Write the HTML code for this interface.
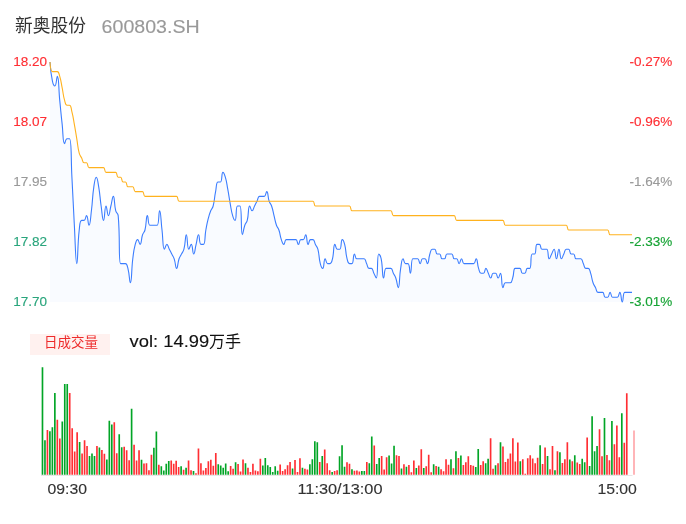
<!DOCTYPE html>
<html lang="zh-CN">
<head>
<meta charset="utf-8">
<title>新奥股份 600803.SH</title>
<style>
html,body{margin:0;padding:0;background:#fff;}
body{width:686px;height:524px;overflow:hidden;position:relative;font-family:"Liberation Sans",sans-serif;}
svg{position:absolute;left:0;top:0;display:block;will-change:transform;}
svg text{font-family:"Liberation Sans","Noto Sans CJK SC",sans-serif;}
</style>
</head>
<body>
<svg width="686" height="524" viewBox="0 0 686 524" role="img" aria-label="新奥股份 600803.SH 分时图">
<rect width="686" height="524" fill="#ffffff"/>
<!-- title -->
<text x="15" y="31.8" font-size="17.8" fill="#333333" text-anchor="start" textLength="71" lengthAdjust="spacingAndGlyphs">新奥股份</text>
<!-- price area + lines -->
<path d="M50 62C50 62 50.53 71.81 52.44 81.2C52.97 83.81 54.01 86 54.87 86C56.45 86 56.6 76.4 57.31 76.4C59.03 76.4 58.52 88.4 59.74 100.4C60.96 112.4 60.82 112.42 62.18 124.4C63.26 134.02 62.71 143.6 64.61 143.6C65.14 143.6 65.37 138.8 67.05 138.8C67.8 138.8 69.34 138.8 69.48 138.8C71.77 138.8 70.83 157.99 71.92 177.2C73.27 201.19 73 201.21 74.35 225.2C75.43 244.41 75.49 263.6 76.79 263.6C77.92 263.6 77.34 246.69 79.22 230C79.78 225.09 79.7 220.4 81.66 220.4C82.14 220.4 83.33 220.4 84.09 220.4C85.77 220.4 85.67 215.6 86.53 215.6C88.1 215.6 87.98 225.2 88.96 225.2C90.41 225.2 90.48 218.04 91.4 210.8C92.91 198.84 92.11 198.71 93.83 186.8C94.54 181.91 95.05 177.2 96.27 177.2C97.49 177.2 97.88 181.93 98.7 186.8C100.31 196.33 99.75 196.43 101.14 206C102.19 213.23 102.36 220.4 103.57 220.4C104.79 220.4 104.56 206 106.01 206C106.99 206 107.23 215.6 108.44 215.6C109.66 215.6 109.66 210.8 110.88 206C112.1 201.2 112.33 196.4 113.31 196.4C114.76 196.4 113.97 203.79 115.75 210.8C116.4 213.39 117.94 212.94 118.18 215.6C120.37 239.34 118.3 263.6 120.62 263.6C120.74 263.6 121.84 263.6 123.05 263.6C124.27 263.6 124.73 263.6 125.49 263.6C127.17 263.6 127.27 265.81 127.92 268.4C129.7 275.41 129.44 282.8 130.36 282.8C131.88 282.8 131.28 270.76 132.79 258.8C133.71 251.56 133.45 251.41 135.23 244.4C135.89 241.81 136.45 239.6 137.67 239.6C138.88 239.6 139.24 244.4 140.1 244.4C141.68 244.4 140.96 239.46 142.54 234.8C143.39 232.26 144.31 232.59 144.97 230C146.75 222.99 145.95 215.6 147.41 215.6C148.39 215.6 147.89 225.2 149.84 225.2C150.32 225.2 151.06 225.2 152.28 225.2C153.49 225.2 153.49 225.2 154.71 225.2C155.93 225.2 156.8 225.2 157.15 225.2C159.23 225.2 158.53 210.8 159.58 210.8C160.97 210.8 160.8 220.4 162.02 230C163.23 239.6 162.55 249.2 164.45 249.2C164.98 249.2 165.67 244.4 166.89 244.4C168.1 244.4 168.1 246.8 169.32 249.2C170.54 251.6 170.54 251.6 171.76 254C172.97 256.4 173.34 256.26 174.19 258.8C175.77 263.46 175.41 268.4 176.63 268.4C177.85 268.4 177.49 263.46 179.06 258.8C179.92 256.26 180.28 256.4 181.5 254C182.72 251.6 183.28 251.79 183.93 249.2C185.71 242.19 185.15 234.8 186.37 234.8C187.59 234.8 187.02 249.2 188.8 249.2C189.46 249.2 190.38 244.4 191.24 244.4C192.82 244.4 192.46 254 193.67 254C194.89 254 194.89 249.2 196.11 244.4C197.33 239.6 197.33 234.8 198.54 234.8C199.76 234.8 199.02 244.4 200.98 244.4C201.46 244.4 203.07 244.4 203.41 244.4C205.5 244.4 204.5 237.18 205.85 230C206.94 224.22 206.84 224.18 208.28 218.48C209.27 214.58 209.26 214.54 210.72 210.8C211.69 208.3 212.5 208.59 213.15 206C214.93 198.99 214.14 198.75 215.59 191.6C216.57 186.75 216.07 182 218.03 182C218.51 182 219.98 182 220.46 182C222.41 182 221.32 172.4 222.9 172.4C223.75 172.4 224.59 174.64 225.33 177.2C227.02 183.04 226.66 183.18 227.77 189.2C229.09 196.38 228.88 196.42 230.2 203.6C231.31 209.62 230.94 209.76 232.64 215.6C233.38 218.16 234.42 220.4 235.07 220.4C236.85 220.4 235.42 206 237.51 206C237.85 206 239.75 206 239.94 206C242.19 206 240.56 234.8 242.38 234.8C243 234.8 243.23 229.86 244.81 225.2C245.67 222.66 246.59 222.99 247.25 220.4C249.03 213.39 247.9 206 249.68 206C250.34 206 250.9 210.8 252.12 210.8C253.33 210.8 253.33 208.4 254.55 206C255.77 203.6 255.77 203.6 256.99 201.2C258.21 198.8 257.75 196.4 259.42 196.4C260.18 196.4 260.64 196.4 261.86 196.4C263.08 196.4 263.53 196.4 264.29 196.4C265.97 196.4 265.87 191.6 266.73 191.6C268.31 191.6 267.59 196.54 269.16 201.2C270.02 203.74 270.74 203.46 271.6 206C273.18 210.66 272.82 210.8 274.03 215.6C275.25 220.4 274.89 220.54 276.47 225.2C277.33 227.74 278.05 227.46 278.9 230C280.48 234.66 279.76 234.94 281.34 239.6C282.2 242.14 282.56 244.4 283.77 244.4C284.99 244.4 284.53 239.6 286.21 239.6C286.97 239.6 287.43 239.6 288.64 239.6C289.86 239.6 289.86 239.6 291.08 239.6C292.3 239.6 292.3 239.6 293.51 239.6C294.73 239.6 295.19 239.6 295.95 239.6C297.63 239.6 297.17 244.4 298.38 244.4C299.6 244.4 299.14 239.6 300.82 239.6C301.58 239.6 302.5 239.6 303.26 239.6C304.93 239.6 304.83 234.8 305.69 234.8C307.27 234.8 306.55 244.4 308.13 244.4C308.98 244.4 308.88 239.6 310.56 239.6C311.32 239.6 312.24 239.6 313 239.6C314.67 239.6 314.21 242 315.43 244.4C316.65 246.8 317.21 246.61 317.87 249.2C319.65 256.21 318.52 256.59 320.3 263.6C320.96 266.19 321.88 268.4 322.74 268.4C324.31 268.4 323.59 258.8 325.17 258.8C326.03 258.8 325.93 263.6 327.61 263.6C328.37 263.6 329.28 263.6 330.04 263.6C331.72 263.6 331.82 261.39 332.48 258.8C334.26 251.79 333.13 244.4 334.91 244.4C335.57 244.4 335.67 249.2 337.35 249.2C338.11 249.2 339.3 249.2 339.78 249.2C341.74 249.2 340.64 239.6 342.22 239.6C343.07 239.6 344 241.81 344.65 244.4C346.43 251.41 345.31 251.79 347.09 258.8C347.74 261.39 347.85 263.6 349.52 263.6C350.28 263.6 351.48 263.6 351.96 263.6C353.91 263.6 352.82 254 354.39 254C355.25 254 355.15 258.8 356.83 258.8C357.59 258.8 358.05 258.8 359.26 258.8C360.48 258.8 360.48 258.8 361.7 258.8C362.92 258.8 363.38 258.8 364.13 258.8C365.81 258.8 365.35 261.2 366.57 263.6C367.79 266 367.33 268.4 369 268.4C369.76 268.4 370.68 268.4 371.44 268.4C373.12 268.4 372.66 270.8 373.87 273.2C375.09 275.6 375.87 278 376.31 278C378.3 278 376.75 254 378.74 254C379.19 254 380.65 256.19 381.18 258.8C383.09 268.19 382 278 383.62 278C384.44 278 384.1 268.4 386.05 268.4C386.53 268.4 387.27 268.4 388.49 268.4C389.7 268.4 390.16 268.4 390.92 268.4C392.6 268.4 392.14 270.8 393.36 273.2C394.57 275.6 394.93 275.46 395.79 278C397.37 282.66 397.4 287.6 398.23 287.6C399.84 287.6 399.05 277.93 400.66 268.4C401.49 263.53 401.52 258.8 403.1 258.8C403.95 258.8 403.85 263.6 405.53 263.6C406.29 263.6 407.49 263.6 407.97 263.6C409.92 263.6 409.42 273.2 410.4 273.2C411.85 273.2 410.75 258.8 412.84 258.8C413.18 258.8 414.05 258.8 415.27 258.8C416.49 258.8 416.95 258.8 417.71 258.8C419.38 258.8 418.92 263.6 420.14 263.6C421.36 263.6 420.9 258.8 422.58 258.8C423.34 258.8 424.25 258.8 425.01 258.8C426.69 258.8 426.59 263.6 427.45 263.6C429.03 263.6 428.31 258.66 429.88 254C430.74 251.46 430.64 249.2 432.32 249.2C433.08 249.2 433.99 249.2 434.75 249.2C436.43 249.2 435.51 254 437.19 254C437.95 254 438.86 254 439.62 254C441.3 254 440.38 258.8 442.06 258.8C442.82 258.8 443.74 258.8 444.49 258.8C446.17 258.8 445.25 254 446.93 254C447.69 254 448.15 254 449.36 254C450.58 254 451.04 254 451.8 254C453.48 254 452.56 258.8 454.23 258.8C454.99 258.8 455.91 258.8 456.67 258.8C458.35 258.8 457.89 263.6 459.1 263.6C460.32 263.6 460.32 258.8 461.54 258.8C462.76 258.8 462.3 263.6 463.97 263.6C464.73 263.6 465.19 263.6 466.41 263.6C467.63 263.6 467.63 263.6 468.85 263.6C470.06 263.6 470.06 263.6 471.28 263.6C472.5 263.6 472.96 263.6 473.72 263.6C475.39 263.6 475.29 258.8 476.15 258.8C477.73 258.8 477.01 263.74 478.59 268.4C479.44 270.94 479.34 273.2 481.02 273.2C481.78 273.2 482.7 273.2 483.46 273.2C485.13 273.2 484.67 268.4 485.89 268.4C487.11 268.4 487.11 270.8 488.33 273.2C489.54 275.6 489.54 278 490.76 278C491.98 278 491.52 273.2 493.2 273.2C493.96 273.2 494.87 273.2 495.63 273.2C497.31 273.2 496.85 278 498.07 278C499.28 278 499.85 273.2 500.5 273.2C502.28 273.2 501.16 287.6 502.94 287.6C503.59 287.6 503.7 282.8 505.37 282.8C506.13 282.8 506.59 282.8 507.81 282.8C509.03 282.8 509.48 282.8 510.24 282.8C511.92 282.8 511.82 280.54 512.68 278C514.26 273.34 513.16 268.4 515.11 268.4C515.59 268.4 516.33 268.4 517.55 268.4C518.77 268.4 519.22 268.4 519.98 268.4C521.66 268.4 520.74 273.2 522.42 273.2C523.18 273.2 524.1 273.2 524.85 273.2C526.53 273.2 525.61 268.4 527.29 268.4C528.05 268.4 529.38 268.4 529.72 268.4C531.81 268.4 530.07 254 532.16 254C532.51 254 534.11 254 534.59 254C536.55 254 535.07 244.4 537.03 244.4C537.51 244.4 538.71 244.4 539.46 244.4C541.14 244.4 540.22 249.2 541.9 249.2C542.66 249.2 543.12 249.2 544.33 249.2C545.55 249.2 546.29 249.2 546.77 249.2C548.72 249.2 547.63 258.8 549.21 258.8C550.06 258.8 550.42 256.4 551.64 254C552.86 251.6 553.22 249.2 554.08 249.2C555.65 249.2 555.29 258.8 556.51 258.8C557.73 258.8 557.73 249.2 558.95 249.2C560.16 249.2 559.8 258.8 561.38 258.8C562.24 258.8 562.6 256.4 563.82 254C565.03 251.6 564.57 249.2 566.25 249.2C567.01 249.2 567.93 249.2 568.69 249.2C570.36 249.2 569.44 254 571.12 254C571.88 254 572.8 254 573.56 254C575.23 254 574.32 258.8 575.99 258.8C576.75 258.8 577.21 258.8 578.43 258.8C579.64 258.8 580.1 258.8 580.86 258.8C582.54 258.8 582.08 261.2 583.3 263.6C584.51 266 584.06 268.4 585.73 268.4C586.49 268.4 587.41 268.4 588.17 268.4C589.84 268.4 589.75 270.66 590.6 273.2C592.18 277.86 591.46 278.14 593.04 282.8C593.9 285.34 594.26 285.2 595.47 287.6C596.69 290 596.23 292.4 597.91 292.4C598.67 292.4 599.13 292.4 600.34 292.4C601.56 292.4 602.02 292.4 602.78 292.4C604.45 292.4 603.54 297.2 605.21 297.2C605.97 297.2 606.89 297.2 607.65 297.2C609.33 297.2 608.87 292.4 610.08 292.4C611.3 292.4 610.84 297.2 612.52 297.2C613.28 297.2 613.74 297.2 614.95 297.2C616.17 297.2 616.63 297.2 617.39 297.2C619.07 297.2 618.97 292.4 619.82 292.4C621.4 292.4 621.04 302 622.26 302C623.48 302 622.74 292.4 624.69 292.4C625.18 292.4 625.91 292.4 627.13 292.4C628.35 292.4 628.35 292.4 629.56 292.4C630.78 292.4 632 292.4 632 292.4L632 302L50 302Z" fill="#f9fbff"/>
<path d="M50 62C50 62 50.53 71.81 52.44 81.2C52.97 83.81 54.01 86 54.87 86C56.45 86 56.6 76.4 57.31 76.4C59.03 76.4 58.52 88.4 59.74 100.4C60.96 112.4 60.82 112.42 62.18 124.4C63.26 134.02 62.71 143.6 64.61 143.6C65.14 143.6 65.37 138.8 67.05 138.8C67.8 138.8 69.34 138.8 69.48 138.8C71.77 138.8 70.83 157.99 71.92 177.2C73.27 201.19 73 201.21 74.35 225.2C75.43 244.41 75.49 263.6 76.79 263.6C77.92 263.6 77.34 246.69 79.22 230C79.78 225.09 79.7 220.4 81.66 220.4C82.14 220.4 83.33 220.4 84.09 220.4C85.77 220.4 85.67 215.6 86.53 215.6C88.1 215.6 87.98 225.2 88.96 225.2C90.41 225.2 90.48 218.04 91.4 210.8C92.91 198.84 92.11 198.71 93.83 186.8C94.54 181.91 95.05 177.2 96.27 177.2C97.49 177.2 97.88 181.93 98.7 186.8C100.31 196.33 99.75 196.43 101.14 206C102.19 213.23 102.36 220.4 103.57 220.4C104.79 220.4 104.56 206 106.01 206C106.99 206 107.23 215.6 108.44 215.6C109.66 215.6 109.66 210.8 110.88 206C112.1 201.2 112.33 196.4 113.31 196.4C114.76 196.4 113.97 203.79 115.75 210.8C116.4 213.39 117.94 212.94 118.18 215.6C120.37 239.34 118.3 263.6 120.62 263.6C120.74 263.6 121.84 263.6 123.05 263.6C124.27 263.6 124.73 263.6 125.49 263.6C127.17 263.6 127.27 265.81 127.92 268.4C129.7 275.41 129.44 282.8 130.36 282.8C131.88 282.8 131.28 270.76 132.79 258.8C133.71 251.56 133.45 251.41 135.23 244.4C135.89 241.81 136.45 239.6 137.67 239.6C138.88 239.6 139.24 244.4 140.1 244.4C141.68 244.4 140.96 239.46 142.54 234.8C143.39 232.26 144.31 232.59 144.97 230C146.75 222.99 145.95 215.6 147.41 215.6C148.39 215.6 147.89 225.2 149.84 225.2C150.32 225.2 151.06 225.2 152.28 225.2C153.49 225.2 153.49 225.2 154.71 225.2C155.93 225.2 156.8 225.2 157.15 225.2C159.23 225.2 158.53 210.8 159.58 210.8C160.97 210.8 160.8 220.4 162.02 230C163.23 239.6 162.55 249.2 164.45 249.2C164.98 249.2 165.67 244.4 166.89 244.4C168.1 244.4 168.1 246.8 169.32 249.2C170.54 251.6 170.54 251.6 171.76 254C172.97 256.4 173.34 256.26 174.19 258.8C175.77 263.46 175.41 268.4 176.63 268.4C177.85 268.4 177.49 263.46 179.06 258.8C179.92 256.26 180.28 256.4 181.5 254C182.72 251.6 183.28 251.79 183.93 249.2C185.71 242.19 185.15 234.8 186.37 234.8C187.59 234.8 187.02 249.2 188.8 249.2C189.46 249.2 190.38 244.4 191.24 244.4C192.82 244.4 192.46 254 193.67 254C194.89 254 194.89 249.2 196.11 244.4C197.33 239.6 197.33 234.8 198.54 234.8C199.76 234.8 199.02 244.4 200.98 244.4C201.46 244.4 203.07 244.4 203.41 244.4C205.5 244.4 204.5 237.18 205.85 230C206.94 224.22 206.84 224.18 208.28 218.48C209.27 214.58 209.26 214.54 210.72 210.8C211.69 208.3 212.5 208.59 213.15 206C214.93 198.99 214.14 198.75 215.59 191.6C216.57 186.75 216.07 182 218.03 182C218.51 182 219.98 182 220.46 182C222.41 182 221.32 172.4 222.9 172.4C223.75 172.4 224.59 174.64 225.33 177.2C227.02 183.04 226.66 183.18 227.77 189.2C229.09 196.38 228.88 196.42 230.2 203.6C231.31 209.62 230.94 209.76 232.64 215.6C233.38 218.16 234.42 220.4 235.07 220.4C236.85 220.4 235.42 206 237.51 206C237.85 206 239.75 206 239.94 206C242.19 206 240.56 234.8 242.38 234.8C243 234.8 243.23 229.86 244.81 225.2C245.67 222.66 246.59 222.99 247.25 220.4C249.03 213.39 247.9 206 249.68 206C250.34 206 250.9 210.8 252.12 210.8C253.33 210.8 253.33 208.4 254.55 206C255.77 203.6 255.77 203.6 256.99 201.2C258.21 198.8 257.75 196.4 259.42 196.4C260.18 196.4 260.64 196.4 261.86 196.4C263.08 196.4 263.53 196.4 264.29 196.4C265.97 196.4 265.87 191.6 266.73 191.6C268.31 191.6 267.59 196.54 269.16 201.2C270.02 203.74 270.74 203.46 271.6 206C273.18 210.66 272.82 210.8 274.03 215.6C275.25 220.4 274.89 220.54 276.47 225.2C277.33 227.74 278.05 227.46 278.9 230C280.48 234.66 279.76 234.94 281.34 239.6C282.2 242.14 282.56 244.4 283.77 244.4C284.99 244.4 284.53 239.6 286.21 239.6C286.97 239.6 287.43 239.6 288.64 239.6C289.86 239.6 289.86 239.6 291.08 239.6C292.3 239.6 292.3 239.6 293.51 239.6C294.73 239.6 295.19 239.6 295.95 239.6C297.63 239.6 297.17 244.4 298.38 244.4C299.6 244.4 299.14 239.6 300.82 239.6C301.58 239.6 302.5 239.6 303.26 239.6C304.93 239.6 304.83 234.8 305.69 234.8C307.27 234.8 306.55 244.4 308.13 244.4C308.98 244.4 308.88 239.6 310.56 239.6C311.32 239.6 312.24 239.6 313 239.6C314.67 239.6 314.21 242 315.43 244.4C316.65 246.8 317.21 246.61 317.87 249.2C319.65 256.21 318.52 256.59 320.3 263.6C320.96 266.19 321.88 268.4 322.74 268.4C324.31 268.4 323.59 258.8 325.17 258.8C326.03 258.8 325.93 263.6 327.61 263.6C328.37 263.6 329.28 263.6 330.04 263.6C331.72 263.6 331.82 261.39 332.48 258.8C334.26 251.79 333.13 244.4 334.91 244.4C335.57 244.4 335.67 249.2 337.35 249.2C338.11 249.2 339.3 249.2 339.78 249.2C341.74 249.2 340.64 239.6 342.22 239.6C343.07 239.6 344 241.81 344.65 244.4C346.43 251.41 345.31 251.79 347.09 258.8C347.74 261.39 347.85 263.6 349.52 263.6C350.28 263.6 351.48 263.6 351.96 263.6C353.91 263.6 352.82 254 354.39 254C355.25 254 355.15 258.8 356.83 258.8C357.59 258.8 358.05 258.8 359.26 258.8C360.48 258.8 360.48 258.8 361.7 258.8C362.92 258.8 363.38 258.8 364.13 258.8C365.81 258.8 365.35 261.2 366.57 263.6C367.79 266 367.33 268.4 369 268.4C369.76 268.4 370.68 268.4 371.44 268.4C373.12 268.4 372.66 270.8 373.87 273.2C375.09 275.6 375.87 278 376.31 278C378.3 278 376.75 254 378.74 254C379.19 254 380.65 256.19 381.18 258.8C383.09 268.19 382 278 383.62 278C384.44 278 384.1 268.4 386.05 268.4C386.53 268.4 387.27 268.4 388.49 268.4C389.7 268.4 390.16 268.4 390.92 268.4C392.6 268.4 392.14 270.8 393.36 273.2C394.57 275.6 394.93 275.46 395.79 278C397.37 282.66 397.4 287.6 398.23 287.6C399.84 287.6 399.05 277.93 400.66 268.4C401.49 263.53 401.52 258.8 403.1 258.8C403.95 258.8 403.85 263.6 405.53 263.6C406.29 263.6 407.49 263.6 407.97 263.6C409.92 263.6 409.42 273.2 410.4 273.2C411.85 273.2 410.75 258.8 412.84 258.8C413.18 258.8 414.05 258.8 415.27 258.8C416.49 258.8 416.95 258.8 417.71 258.8C419.38 258.8 418.92 263.6 420.14 263.6C421.36 263.6 420.9 258.8 422.58 258.8C423.34 258.8 424.25 258.8 425.01 258.8C426.69 258.8 426.59 263.6 427.45 263.6C429.03 263.6 428.31 258.66 429.88 254C430.74 251.46 430.64 249.2 432.32 249.2C433.08 249.2 433.99 249.2 434.75 249.2C436.43 249.2 435.51 254 437.19 254C437.95 254 438.86 254 439.62 254C441.3 254 440.38 258.8 442.06 258.8C442.82 258.8 443.74 258.8 444.49 258.8C446.17 258.8 445.25 254 446.93 254C447.69 254 448.15 254 449.36 254C450.58 254 451.04 254 451.8 254C453.48 254 452.56 258.8 454.23 258.8C454.99 258.8 455.91 258.8 456.67 258.8C458.35 258.8 457.89 263.6 459.1 263.6C460.32 263.6 460.32 258.8 461.54 258.8C462.76 258.8 462.3 263.6 463.97 263.6C464.73 263.6 465.19 263.6 466.41 263.6C467.63 263.6 467.63 263.6 468.85 263.6C470.06 263.6 470.06 263.6 471.28 263.6C472.5 263.6 472.96 263.6 473.72 263.6C475.39 263.6 475.29 258.8 476.15 258.8C477.73 258.8 477.01 263.74 478.59 268.4C479.44 270.94 479.34 273.2 481.02 273.2C481.78 273.2 482.7 273.2 483.46 273.2C485.13 273.2 484.67 268.4 485.89 268.4C487.11 268.4 487.11 270.8 488.33 273.2C489.54 275.6 489.54 278 490.76 278C491.98 278 491.52 273.2 493.2 273.2C493.96 273.2 494.87 273.2 495.63 273.2C497.31 273.2 496.85 278 498.07 278C499.28 278 499.85 273.2 500.5 273.2C502.28 273.2 501.16 287.6 502.94 287.6C503.59 287.6 503.7 282.8 505.37 282.8C506.13 282.8 506.59 282.8 507.81 282.8C509.03 282.8 509.48 282.8 510.24 282.8C511.92 282.8 511.82 280.54 512.68 278C514.26 273.34 513.16 268.4 515.11 268.4C515.59 268.4 516.33 268.4 517.55 268.4C518.77 268.4 519.22 268.4 519.98 268.4C521.66 268.4 520.74 273.2 522.42 273.2C523.18 273.2 524.1 273.2 524.85 273.2C526.53 273.2 525.61 268.4 527.29 268.4C528.05 268.4 529.38 268.4 529.72 268.4C531.81 268.4 530.07 254 532.16 254C532.51 254 534.11 254 534.59 254C536.55 254 535.07 244.4 537.03 244.4C537.51 244.4 538.71 244.4 539.46 244.4C541.14 244.4 540.22 249.2 541.9 249.2C542.66 249.2 543.12 249.2 544.33 249.2C545.55 249.2 546.29 249.2 546.77 249.2C548.72 249.2 547.63 258.8 549.21 258.8C550.06 258.8 550.42 256.4 551.64 254C552.86 251.6 553.22 249.2 554.08 249.2C555.65 249.2 555.29 258.8 556.51 258.8C557.73 258.8 557.73 249.2 558.95 249.2C560.16 249.2 559.8 258.8 561.38 258.8C562.24 258.8 562.6 256.4 563.82 254C565.03 251.6 564.57 249.2 566.25 249.2C567.01 249.2 567.93 249.2 568.69 249.2C570.36 249.2 569.44 254 571.12 254C571.88 254 572.8 254 573.56 254C575.23 254 574.32 258.8 575.99 258.8C576.75 258.8 577.21 258.8 578.43 258.8C579.64 258.8 580.1 258.8 580.86 258.8C582.54 258.8 582.08 261.2 583.3 263.6C584.51 266 584.06 268.4 585.73 268.4C586.49 268.4 587.41 268.4 588.17 268.4C589.84 268.4 589.75 270.66 590.6 273.2C592.18 277.86 591.46 278.14 593.04 282.8C593.9 285.34 594.26 285.2 595.47 287.6C596.69 290 596.23 292.4 597.91 292.4C598.67 292.4 599.13 292.4 600.34 292.4C601.56 292.4 602.02 292.4 602.78 292.4C604.45 292.4 603.54 297.2 605.21 297.2C605.97 297.2 606.89 297.2 607.65 297.2C609.33 297.2 608.87 292.4 610.08 292.4C611.3 292.4 610.84 297.2 612.52 297.2C613.28 297.2 613.74 297.2 614.95 297.2C616.17 297.2 616.63 297.2 617.39 297.2C619.07 297.2 618.97 292.4 619.82 292.4C621.4 292.4 621.04 302 622.26 302C623.48 302 622.74 292.4 624.69 292.4C625.18 292.4 625.91 292.4 627.13 292.4C628.35 292.4 628.35 292.4 629.56 292.4C630.78 292.4 632 292.4 632 292.4" fill="none" stroke="#3b7dff" stroke-width="1.1" stroke-linejoin="round"/>
<path d="M50 62C50 62 50.48 71.6 52.44 71.6C52.92 71.6 53.65 71.6 54.87 71.6C56.09 71.6 56.55 71.6 57.31 71.6C58.98 71.6 58.98 73.84 59.74 76.4C61.41 82 61 82.15 62.18 87.92C63.44 94.15 62.9 94.33 64.61 100.4C65.34 102.97 65.37 105.2 67.05 105.2C67.8 105.2 68.86 105.2 69.48 105.2C71.3 105.2 71.04 108.47 71.92 111.92C73.48 118.07 73.22 118.14 74.35 124.4C75.65 131.58 75.57 131.6 76.79 138.8C78 146 77.44 146.19 79.22 153.2C79.88 155.79 80.44 155.6 81.66 158C82.87 160.4 82.42 162.8 84.09 162.8C84.85 162.8 85.77 162.8 86.53 162.8C88.2 162.8 87.29 167.6 88.96 167.6C89.72 167.6 90.18 167.6 91.4 167.6C92.62 167.6 92.62 167.6 93.83 167.6C95.05 167.6 95.05 167.6 96.27 167.6C97.49 167.6 97.49 167.6 98.7 167.6C99.92 167.6 99.92 167.6 101.14 167.6C102.36 167.6 102.81 167.6 103.57 167.6C105.25 167.6 104.33 172.4 106.01 172.4C106.77 172.4 107.23 172.4 108.44 172.4C109.66 172.4 109.66 172.4 110.88 172.4C112.1 172.4 112.1 172.4 113.31 172.4C114.53 172.4 114.99 172.4 115.75 172.4C117.43 172.4 116.51 177.2 118.18 177.2C118.94 177.2 119.86 177.2 120.62 177.2C122.3 177.2 121.38 182 123.05 182C123.81 182 124.73 182 125.49 182C127.17 182 126.25 186.8 127.92 186.8C128.68 186.8 129.14 186.8 130.36 186.8C131.58 186.8 132.04 186.8 132.79 186.8C134.47 186.8 133.55 191.6 135.23 191.6C135.99 191.6 136.45 191.6 137.67 191.6C138.88 191.6 138.88 191.6 140.1 191.6C141.32 191.6 141.78 191.6 142.54 191.6C144.21 191.6 143.29 196.4 144.97 196.4C145.73 196.4 146.19 196.4 147.41 196.4C148.62 196.4 148.62 196.4 149.84 196.4C151.06 196.4 151.06 196.4 152.28 196.4C153.49 196.4 153.49 196.4 154.71 196.4C155.93 196.4 155.93 196.4 157.15 196.4C158.36 196.4 158.36 196.4 159.58 196.4C160.8 196.4 160.8 196.4 162.02 196.4C163.23 196.4 163.23 196.4 164.45 196.4C165.67 196.4 165.67 196.4 166.89 196.4C168.1 196.4 168.1 196.4 169.32 196.4C170.54 196.4 170.54 196.4 171.76 196.4C172.97 196.4 172.97 196.4 174.19 196.4C175.41 196.4 175.87 196.4 176.63 196.4C178.3 196.4 177.39 201.2 179.06 201.2C179.82 201.2 180.28 201.2 181.5 201.2C182.72 201.2 182.72 201.2 183.93 201.2C185.15 201.2 185.15 201.2 186.37 201.2C187.59 201.2 187.59 201.2 188.8 201.2C190.02 201.2 190.02 201.2 191.24 201.2C192.46 201.2 192.46 201.2 193.67 201.2C194.89 201.2 194.89 201.2 196.11 201.2C197.33 201.2 197.33 201.2 198.54 201.2C199.76 201.2 199.76 201.2 200.98 201.2C202.2 201.2 202.2 201.2 203.41 201.2C204.63 201.2 204.63 201.2 205.85 201.2C207.07 201.2 207.07 201.2 208.28 201.2C209.5 201.2 209.5 201.2 210.72 201.2C211.94 201.2 211.94 201.2 213.15 201.2C214.37 201.2 214.37 201.2 215.59 201.2C216.81 201.2 216.81 201.2 218.03 201.2C219.24 201.2 219.24 201.2 220.46 201.2C221.68 201.2 221.68 201.2 222.9 201.2C224.11 201.2 224.11 201.2 225.33 201.2C226.55 201.2 226.55 201.2 227.77 201.2C228.98 201.2 228.98 201.2 230.2 201.2C231.42 201.2 231.42 201.2 232.64 201.2C233.85 201.2 233.85 201.2 235.07 201.2C236.29 201.2 236.29 201.2 237.51 201.2C238.72 201.2 238.72 201.2 239.94 201.2C241.16 201.2 241.16 201.2 242.38 201.2C243.59 201.2 243.59 201.2 244.81 201.2C246.03 201.2 246.03 201.2 247.25 201.2C248.46 201.2 248.46 201.2 249.68 201.2C250.9 201.2 250.9 201.2 252.12 201.2C253.33 201.2 253.33 201.2 254.55 201.2C255.77 201.2 255.77 201.2 256.99 201.2C258.21 201.2 258.21 201.2 259.42 201.2C260.64 201.2 260.64 201.2 261.86 201.2C263.08 201.2 263.08 201.2 264.29 201.2C265.51 201.2 265.51 201.2 266.73 201.2C267.95 201.2 267.95 201.2 269.16 201.2C270.38 201.2 270.38 201.2 271.6 201.2C272.82 201.2 272.82 201.2 274.03 201.2C275.25 201.2 275.25 201.2 276.47 201.2C277.69 201.2 277.69 201.2 278.9 201.2C280.12 201.2 280.12 201.2 281.34 201.2C282.56 201.2 282.56 201.2 283.77 201.2C284.99 201.2 284.99 201.2 286.21 201.2C287.43 201.2 287.43 201.2 288.64 201.2C289.86 201.2 289.86 201.2 291.08 201.2C292.3 201.2 292.3 201.2 293.51 201.2C294.73 201.2 294.73 201.2 295.95 201.2C297.17 201.2 297.17 201.2 298.38 201.2C299.6 201.2 299.6 201.2 300.82 201.2C302.04 201.2 302.04 201.2 303.26 201.2C304.47 201.2 304.47 201.2 305.69 201.2C306.91 201.2 306.91 201.2 308.13 201.2C309.34 201.2 309.34 201.2 310.56 201.2C311.78 201.2 312.24 201.2 313 201.2C314.67 201.2 313.75 206 315.43 206C316.19 206 316.65 206 317.87 206C319.08 206 319.08 206 320.3 206C321.52 206 321.52 206 322.74 206C323.95 206 323.95 206 325.17 206C326.39 206 326.39 206 327.61 206C328.82 206 328.82 206 330.04 206C331.26 206 331.26 206 332.48 206C333.69 206 333.69 206 334.91 206C336.13 206 336.13 206 337.35 206C338.56 206 338.56 206 339.78 206C341 206 341 206 342.22 206C343.44 206 343.44 206 344.65 206C345.87 206 345.87 206 347.09 206C348.31 206 348.76 206 349.52 206C351.2 206 350.28 210.8 351.96 210.8C352.72 210.8 353.18 210.8 354.39 210.8C355.61 210.8 355.61 210.8 356.83 210.8C358.05 210.8 358.05 210.8 359.26 210.8C360.48 210.8 360.48 210.8 361.7 210.8C362.92 210.8 362.92 210.8 364.13 210.8C365.35 210.8 365.35 210.8 366.57 210.8C367.79 210.8 367.79 210.8 369 210.8C370.22 210.8 370.22 210.8 371.44 210.8C372.66 210.8 372.66 210.8 373.87 210.8C375.09 210.8 375.09 210.8 376.31 210.8C377.53 210.8 377.53 210.8 378.74 210.8C379.96 210.8 379.96 210.8 381.18 210.8C382.4 210.8 382.4 210.8 383.62 210.8C384.83 210.8 384.83 210.8 386.05 210.8C387.27 210.8 387.27 210.8 388.49 210.8C389.7 210.8 390.16 210.8 390.92 210.8C392.6 210.8 391.68 215.6 393.36 215.6C394.11 215.6 394.57 215.6 395.79 215.6C397.01 215.6 397.01 215.6 398.23 215.6C399.44 215.6 399.44 215.6 400.66 215.6C401.88 215.6 401.88 215.6 403.1 215.6C404.31 215.6 404.31 215.6 405.53 215.6C406.75 215.6 406.75 215.6 407.97 215.6C409.18 215.6 409.18 215.6 410.4 215.6C411.62 215.6 411.62 215.6 412.84 215.6C414.05 215.6 414.05 215.6 415.27 215.6C416.49 215.6 416.49 215.6 417.71 215.6C418.92 215.6 418.92 215.6 420.14 215.6C421.36 215.6 421.36 215.6 422.58 215.6C423.79 215.6 423.79 215.6 425.01 215.6C426.23 215.6 426.23 215.6 427.45 215.6C428.67 215.6 428.67 215.6 429.88 215.6C431.1 215.6 431.1 215.6 432.32 215.6C433.54 215.6 433.54 215.6 434.75 215.6C435.97 215.6 435.97 215.6 437.19 215.6C438.41 215.6 438.41 215.6 439.62 215.6C440.84 215.6 440.84 215.6 442.06 215.6C443.28 215.6 443.28 215.6 444.49 215.6C445.71 215.6 445.71 215.6 446.93 215.6C448.15 215.6 448.15 215.6 449.36 215.6C450.58 215.6 450.58 215.6 451.8 215.6C453.02 215.6 453.48 215.6 454.23 215.6C455.91 215.6 454.99 220.4 456.67 220.4C457.43 220.4 457.89 220.4 459.1 220.4C460.32 220.4 460.32 220.4 461.54 220.4C462.76 220.4 462.76 220.4 463.97 220.4C465.19 220.4 465.19 220.4 466.41 220.4C467.63 220.4 467.63 220.4 468.85 220.4C470.06 220.4 470.06 220.4 471.28 220.4C472.5 220.4 472.5 220.4 473.72 220.4C474.93 220.4 474.93 220.4 476.15 220.4C477.37 220.4 477.37 220.4 478.59 220.4C479.8 220.4 479.8 220.4 481.02 220.4C482.24 220.4 482.24 220.4 483.46 220.4C484.67 220.4 484.67 220.4 485.89 220.4C487.11 220.4 487.11 220.4 488.33 220.4C489.54 220.4 489.54 220.4 490.76 220.4C491.98 220.4 491.98 220.4 493.2 220.4C494.41 220.4 494.41 220.4 495.63 220.4C496.85 220.4 496.85 220.4 498.07 220.4C499.28 220.4 499.28 220.4 500.5 220.4C501.72 220.4 502.18 220.4 502.94 220.4C504.61 220.4 503.7 225.2 505.37 225.2C506.13 225.2 506.59 225.2 507.81 225.2C509.03 225.2 509.03 225.2 510.24 225.2C511.46 225.2 511.46 225.2 512.68 225.2C513.9 225.2 513.9 225.2 515.11 225.2C516.33 225.2 516.33 225.2 517.55 225.2C518.77 225.2 518.77 225.2 519.98 225.2C521.2 225.2 521.2 225.2 522.42 225.2C523.64 225.2 523.64 225.2 524.85 225.2C526.07 225.2 526.07 225.2 527.29 225.2C528.51 225.2 528.51 225.2 529.72 225.2C530.94 225.2 530.94 225.2 532.16 225.2C533.38 225.2 533.38 225.2 534.59 225.2C535.81 225.2 535.81 225.2 537.03 225.2C538.25 225.2 538.25 225.2 539.46 225.2C540.68 225.2 540.68 225.2 541.9 225.2C543.12 225.2 543.12 225.2 544.33 225.2C545.55 225.2 545.55 225.2 546.77 225.2C547.99 225.2 547.99 225.2 549.21 225.2C550.42 225.2 550.42 225.2 551.64 225.2C552.86 225.2 552.86 225.2 554.08 225.2C555.29 225.2 555.29 225.2 556.51 225.2C557.73 225.2 557.73 225.2 558.95 225.2C560.16 225.2 560.16 225.2 561.38 225.2C562.6 225.2 562.6 225.2 563.82 225.2C565.03 225.2 565.49 225.2 566.25 225.2C567.93 225.2 567.01 230 568.69 230C569.44 230 569.9 230 571.12 230C572.34 230 572.34 230 573.56 230C574.77 230 574.77 230 575.99 230C577.21 230 577.21 230 578.43 230C579.64 230 579.64 230 580.86 230C582.08 230 582.08 230 583.3 230C584.51 230 584.51 230 585.73 230C586.95 230 586.95 230 588.17 230C589.38 230 589.38 230 590.6 230C591.82 230 591.82 230 593.04 230C594.26 230 594.26 230 595.47 230C596.69 230 596.69 230 597.91 230C599.13 230 599.13 230 600.34 230C601.56 230 601.56 230 602.78 230C604 230 604 230 605.21 230C606.43 230 606.89 230 607.65 230C609.33 230 608.41 234.8 610.08 234.8C610.84 234.8 611.3 234.8 612.52 234.8C613.74 234.8 613.74 234.8 614.95 234.8C616.17 234.8 616.17 234.8 617.39 234.8C618.61 234.8 618.61 234.8 619.82 234.8C621.04 234.8 621.04 234.8 622.26 234.8C623.48 234.8 623.48 234.8 624.69 234.8C625.91 234.8 625.91 234.8 627.13 234.8C628.35 234.8 628.35 234.8 629.56 234.8C630.78 234.8 632 234.8 632 234.8" fill="none" stroke="#ffb21e" stroke-width="1.1" stroke-linejoin="round"/>
<!-- volume legend -->
<rect x="30" y="334" width="80" height="21" fill="#fff1ef"/>
<text x="44" y="347.3" font-size="13.4" fill="#ee2b2b" text-anchor="start" textLength="54" lengthAdjust="spacingAndGlyphs">日成交量</text>
<text x="209" y="347.2" font-size="16" fill="#111111" text-anchor="start" textLength="32" lengthAdjust="spacingAndGlyphs">万手</text>
<!-- volume axis line -->
<rect x="41" y="475" width="591.5" height="1" fill="#e6e6e6"/>
<!-- volume bars -->
<path d="M41.65 474.86V367.3h1.66V474.86ZM44.13 474.86V440.29h1.66V474.86ZM49.08 474.86V431.14h1.66V474.86ZM51.55 474.86V427.14h1.66V474.86ZM54.03 474.86V393.1h1.66V474.86ZM61.46 474.86V421.43h1.66V474.86ZM63.93 474.86V384.1h1.66V474.86ZM66.41 474.86V384.1h1.66V474.86ZM78.79 474.86V442h1.66V474.86ZM88.69 474.86V456h1.66V474.86ZM91.17 474.86V453.43h1.66V474.86ZM93.64 474.86V456h1.66V474.86ZM98.59 474.86V447.43h1.66V474.86ZM106.02 474.86V459.57h1.66V474.86ZM108.5 474.86V420.86h1.66V474.86ZM110.97 474.86V424.57h1.66V474.86ZM118.4 474.86V434.29h1.66V474.86ZM120.88 474.86V447.29h1.66V474.86ZM130.78 474.86V408.86h1.66V474.86ZM140.68 474.86V459.86h1.66V474.86ZM153.06 474.86V447.71h1.66V474.86ZM155.54 474.86V431.57h1.66V474.86ZM160.49 474.86V466.29h1.66V474.86ZM162.96 474.86V470.57h1.66V474.86ZM165.44 474.86V463.86h1.66V474.86ZM167.92 474.86V461h1.66V474.86ZM180.29 474.86V466.29h1.66V474.86ZM185.25 474.86V467.71h1.66V474.86ZM192.67 474.86V471h1.66V474.86ZM217.43 474.86V464.14h1.66V474.86ZM219.91 474.86V465.57h1.66V474.86ZM222.38 474.86V467.71h1.66V474.86ZM224.86 474.86V463.43h1.66V474.86ZM227.33 474.86V471.29h1.66V474.86ZM234.76 474.86V462.29h1.66V474.86ZM244.67 474.86V463.14h1.66V474.86ZM262 474.86V465.57h1.66V474.86ZM264.47 474.86V458h1.66V474.86ZM266.95 474.86V465.14h1.66V474.86ZM269.42 474.86V467h1.66V474.86ZM271.9 474.86V472h1.66V474.86ZM274.38 474.86V466.29h1.66V474.86ZM276.85 474.86V470.86h1.66V474.86ZM291.71 474.86V468.43h1.66V474.86ZM301.61 474.86V467.71h1.66V474.86ZM309.04 474.86V464.29h1.66V474.86ZM311.51 474.86V459.14h1.66V474.86ZM313.99 474.86V441.29h1.66V474.86ZM316.46 474.86V442.14h1.66V474.86ZM321.42 474.86V456h1.66V474.86ZM331.32 474.86V472h1.66V474.86ZM338.75 474.86V456.29h1.66V474.86ZM341.22 474.86V445.14h1.66V474.86ZM343.7 474.86V466.71h1.66V474.86ZM351.13 474.86V469.14h1.66V474.86ZM361.03 474.86V471h1.66V474.86ZM363.5 474.86V471h1.66V474.86ZM368.46 474.86V463.14h1.66V474.86ZM370.93 474.86V436.57h1.66V474.86ZM375.88 474.86V464h1.66V474.86ZM378.36 474.86V458h1.66V474.86ZM388.26 474.86V455.57h1.66V474.86ZM390.74 474.86V463.43h1.66V474.86ZM393.21 474.86V445.86h1.66V474.86ZM400.64 474.86V468.57h1.66V474.86ZM405.59 474.86V466.71h1.66V474.86ZM415.5 474.86V468h1.66V474.86ZM422.92 474.86V468h1.66V474.86ZM432.83 474.86V464.29h1.66V474.86ZM437.78 474.86V466.86h1.66V474.86ZM450.16 474.86V459.14h1.66V474.86ZM455.11 474.86V451.14h1.66V474.86ZM460.06 474.86V455.43h1.66V474.86ZM474.92 474.86V467h1.66V474.86ZM477.39 474.86V449h1.66V474.86ZM484.82 474.86V463.14h1.66V474.86ZM487.29 474.86V458.71h1.66V474.86ZM494.72 474.86V465.14h1.66V474.86ZM499.67 474.86V442.29h1.66V474.86ZM519.48 474.86V461.14h1.66V474.86ZM539.29 474.86V445.29h1.66V474.86ZM546.71 474.86V456h1.66V474.86ZM554.14 474.86V470.14h1.66V474.86ZM559.09 474.86V452.14h1.66V474.86ZM569 474.86V459.43h1.66V474.86ZM573.95 474.86V455.29h1.66V474.86ZM581.37 474.86V458.86h1.66V474.86ZM583.85 474.86V462.14h1.66V474.86ZM588.8 474.86V466h1.66V474.86ZM591.28 474.86V416.14h1.66V474.86ZM593.75 474.86V451.14h1.66V474.86ZM596.23 474.86V446h1.66V474.86ZM603.66 474.86V418h1.66V474.86ZM611.08 474.86V421h1.66V474.86ZM620.99 474.86V413.29h1.66V474.86Z" fill="#02a526"/>
<path d="M46.6 474.86V430h1.66V474.86ZM56.5 474.86V419.71h1.66V474.86ZM58.98 474.86V438.57h1.66V474.86ZM68.88 474.86V393.1h1.66V474.86ZM71.36 474.86V428.29h1.66V474.86ZM73.84 474.86V451.43h1.66V474.86ZM76.31 474.86V432.29h1.66V474.86ZM81.26 474.86V453.43h1.66V474.86ZM83.74 474.86V440.14h1.66V474.86ZM86.21 474.86V446h1.66V474.86ZM96.12 474.86V446h1.66V474.86ZM101.07 474.86V450h1.66V474.86ZM103.55 474.86V453.71h1.66V474.86ZM113.45 474.86V422.29h1.66V474.86ZM115.92 474.86V453.14h1.66V474.86ZM123.35 474.86V446.71h1.66V474.86ZM125.83 474.86V450.29h1.66V474.86ZM128.3 474.86V460.14h1.66V474.86ZM133.25 474.86V444.86h1.66V474.86ZM135.73 474.86V460.57h1.66V474.86ZM138.21 474.86V450.29h1.66V474.86ZM143.16 474.86V463.43h1.66V474.86ZM145.63 474.86V463.14h1.66V474.86ZM148.11 474.86V470.29h1.66V474.86ZM150.59 474.86V454.86h1.66V474.86ZM158.01 474.86V464.86h1.66V474.86ZM170.39 474.86V460.57h1.66V474.86ZM172.87 474.86V463.71h1.66V474.86ZM175.34 474.86V460.86h1.66V474.86ZM177.82 474.86V467h1.66V474.86ZM182.77 474.86V469.86h1.66V474.86ZM187.72 474.86V460.57h1.66V474.86ZM190.2 474.86V470.29h1.66V474.86ZM195.15 474.86V473.14h1.66V474.86ZM197.63 474.86V448.57h1.66V474.86ZM200.1 474.86V463.14h1.66V474.86ZM202.58 474.86V470.57h1.66V474.86ZM205.05 474.86V468h1.66V474.86ZM207.53 474.86V461.14h1.66V474.86ZM210 474.86V459.71h1.66V474.86ZM212.48 474.86V465.86h1.66V474.86ZM214.96 474.86V453h1.66V474.86ZM229.81 474.86V466h1.66V474.86ZM232.29 474.86V468.86h1.66V474.86ZM237.24 474.86V464h1.66V474.86ZM239.71 474.86V471.43h1.66V474.86ZM242.19 474.86V459.57h1.66V474.86ZM247.14 474.86V467.71h1.66V474.86ZM249.62 474.86V472h1.66V474.86ZM252.09 474.86V463.71h1.66V474.86ZM254.57 474.86V470.57h1.66V474.86ZM257.04 474.86V471.29h1.66V474.86ZM259.52 474.86V458.86h1.66V474.86ZM279.33 474.86V464.43h1.66V474.86ZM281.8 474.86V471h1.66V474.86ZM284.28 474.86V469.14h1.66V474.86ZM286.75 474.86V465.14h1.66V474.86ZM289.23 474.86V462h1.66V474.86ZM294.18 474.86V460h1.66V474.86ZM296.66 474.86V472h1.66V474.86ZM299.13 474.86V458.29h1.66V474.86ZM304.08 474.86V468.86h1.66V474.86ZM306.56 474.86V469.43h1.66V474.86ZM318.94 474.86V462h1.66V474.86ZM323.89 474.86V449.57h1.66V474.86ZM326.37 474.86V463.14h1.66V474.86ZM328.84 474.86V470.29h1.66V474.86ZM333.79 474.86V471h1.66V474.86ZM336.27 474.86V470.14h1.66V474.86ZM346.17 474.86V462.29h1.66V474.86ZM348.65 474.86V463.71h1.66V474.86ZM353.6 474.86V470.71h1.66V474.86ZM356.08 474.86V470.43h1.66V474.86ZM358.55 474.86V471.43h1.66V474.86ZM365.98 474.86V462h1.66V474.86ZM373.41 474.86V445.43h1.66V474.86ZM380.83 474.86V456h1.66V474.86ZM383.31 474.86V469.43h1.66V474.86ZM385.79 474.86V457.14h1.66V474.86ZM395.69 474.86V455.29h1.66V474.86ZM398.17 474.86V456h1.66V474.86ZM403.12 474.86V464.14h1.66V474.86ZM408.07 474.86V465h1.66V474.86ZM410.54 474.86V472.29h1.66V474.86ZM413.02 474.86V460.43h1.66V474.86ZM417.97 474.86V465.57h1.66V474.86ZM420.45 474.86V449.14h1.66V474.86ZM425.4 474.86V466.14h1.66V474.86ZM427.87 474.86V454.86h1.66V474.86ZM430.35 474.86V472.29h1.66V474.86ZM435.3 474.86V466h1.66V474.86ZM440.25 474.86V469.14h1.66V474.86ZM442.73 474.86V471.14h1.66V474.86ZM445.21 474.86V459.29h1.66V474.86ZM447.68 474.86V464.86h1.66V474.86ZM452.63 474.86V468.14h1.66V474.86ZM457.58 474.86V458h1.66V474.86ZM462.54 474.86V465h1.66V474.86ZM465.01 474.86V462.29h1.66V474.86ZM467.49 474.86V456.14h1.66V474.86ZM469.96 474.86V465h1.66V474.86ZM472.44 474.86V465.86h1.66V474.86ZM479.87 474.86V465h1.66V474.86ZM482.34 474.86V461.14h1.66V474.86ZM489.77 474.86V438.29h1.66V474.86ZM492.25 474.86V468.86h1.66V474.86ZM497.2 474.86V463.14h1.66V474.86ZM502.15 474.86V446.57h1.66V474.86ZM504.62 474.86V462h1.66V474.86ZM507.1 474.86V458.86h1.66V474.86ZM509.58 474.86V453.43h1.66V474.86ZM512.05 474.86V438.29h1.66V474.86ZM514.53 474.86V461.57h1.66V474.86ZM517 474.86V442.43h1.66V474.86ZM521.96 474.86V459.14h1.66V474.86ZM524.43 474.86V473.86h1.66V474.86ZM526.91 474.86V458.29h1.66V474.86ZM529.38 474.86V455.14h1.66V474.86ZM531.86 474.86V458.57h1.66V474.86ZM534.33 474.86V463.14h1.66V474.86ZM536.81 474.86V457.86h1.66V474.86ZM541.76 474.86V464h1.66V474.86ZM544.24 474.86V447.43h1.66V474.86ZM549.19 474.86V469.14h1.66V474.86ZM551.66 474.86V446h1.66V474.86ZM556.62 474.86V451.14h1.66V474.86ZM561.57 474.86V463h1.66V474.86ZM564.04 474.86V459.14h1.66V474.86ZM566.52 474.86V442.29h1.66V474.86ZM571.47 474.86V461.14h1.66V474.86ZM576.42 474.86V462.43h1.66V474.86ZM578.9 474.86V464h1.66V474.86ZM586.33 474.86V437.57h1.66V474.86ZM598.7 474.86V429.14h1.66V474.86ZM601.18 474.86V456.29h1.66V474.86ZM606.13 474.86V455h1.66V474.86ZM608.61 474.86V460.14h1.66V474.86ZM613.56 474.86V444.14h1.66V474.86ZM616.04 474.86V425.57h1.66V474.86ZM618.51 474.86V457.14h1.66V474.86ZM623.46 474.86V442.71h1.66V474.86ZM625.94 474.86V393.3h1.66V474.86Z" fill="#ff2e33"/>
<path d="M633.17 474.86V430.57h1.66V474.86Z" fill="#ffa6aa"/>
<!-- labels -->
<text x="13.2" y="66.4" font-size="12.2" fill="#ff2e33" stroke="#ff2e33" stroke-width="0.12" text-anchor="start" textLength="33.9" lengthAdjust="spacingAndGlyphs">18.20</text>
<text x="13.2" y="126.4" font-size="12.2" fill="#ff2e33" stroke="#ff2e33" stroke-width="0.12" text-anchor="start" textLength="33.9" lengthAdjust="spacingAndGlyphs">18.07</text>
<text x="13.2" y="186.4" font-size="12.2" fill="#999999" stroke="#999999" stroke-width="0.12" text-anchor="start" textLength="33.9" lengthAdjust="spacingAndGlyphs">17.95</text>
<text x="13.2" y="246.4" font-size="12.2" fill="#2aa57c" stroke="#2aa57c" stroke-width="0.12" text-anchor="start" textLength="33.9" lengthAdjust="spacingAndGlyphs">17.82</text>
<text x="13.2" y="306.4" font-size="12.2" fill="#2aa57c" stroke="#2aa57c" stroke-width="0.12" text-anchor="start" textLength="33.9" lengthAdjust="spacingAndGlyphs">17.70</text>
<text x="629.5" y="66.4" font-size="12.2" fill="#ff2e33" stroke="#ff2e33" stroke-width="0.12" text-anchor="start" textLength="42.8" lengthAdjust="spacingAndGlyphs">-0.27%</text>
<text x="629.5" y="126.4" font-size="12.2" fill="#ff2e33" stroke="#ff2e33" stroke-width="0.12" text-anchor="start" textLength="42.8" lengthAdjust="spacingAndGlyphs">-0.96%</text>
<text x="629.5" y="186.4" font-size="12.2" fill="#999999" stroke="#999999" stroke-width="0.12" text-anchor="start" textLength="42.8" lengthAdjust="spacingAndGlyphs">-1.64%</text>
<text x="629.5" y="246.4" font-size="12.2" fill="#16a334" stroke="#16a334" stroke-width="0.12" text-anchor="start" textLength="42.8" lengthAdjust="spacingAndGlyphs">-2.33%</text>
<text x="629.5" y="306.4" font-size="12.2" fill="#16a334" stroke="#16a334" stroke-width="0.12" text-anchor="start" textLength="42.8" lengthAdjust="spacingAndGlyphs">-3.01%</text>
<text x="101.6" y="32.5" font-size="18.3" fill="#999999" stroke="#999999" stroke-width="0.12" text-anchor="start" textLength="98" lengthAdjust="spacingAndGlyphs">600803.SH</text>
<text x="129.6" y="347" font-size="16.3" fill="#111111" stroke="#111111" stroke-width="0.12" text-anchor="start" textLength="79.6" lengthAdjust="spacingAndGlyphs">vol: 14.99</text>
<text x="47.5" y="494.2" font-size="14.2" fill="#333333" stroke="#333333" stroke-width="0.12" text-anchor="start" textLength="39.5" lengthAdjust="spacingAndGlyphs">09:30</text>
<text x="297.5" y="494.2" font-size="14.2" fill="#333333" stroke="#333333" stroke-width="0.12" text-anchor="start" textLength="85" lengthAdjust="spacingAndGlyphs">11:30/13:00</text>
<text x="597.4" y="494.2" font-size="14.2" fill="#333333" stroke="#333333" stroke-width="0.12" text-anchor="start" textLength="39.5" lengthAdjust="spacingAndGlyphs">15:00</text>
</svg>
</body>
</html>
